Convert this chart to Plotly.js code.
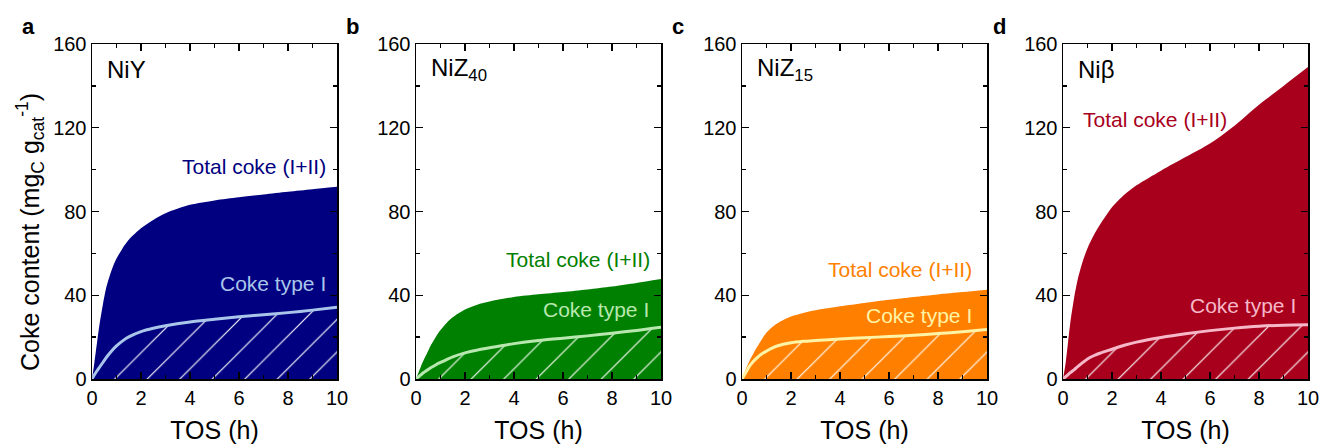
<!DOCTYPE html>
<html>
<head>
<meta charset="utf-8">
<script src="https://cdn.plot.ly/plotly-3.0.1.min.js"></script>
<style>html,body{margin:0;padding:0;background:#fff;}#chart{width:1320px;height:444px;}</style>
</head>
<body>
<div id="chart"></div>
<script>
// ---- data ----
const tos = [0, 0.1, 0.2, 0.3, 0.45, 0.6, 0.8, 1, 1.25, 1.5, 2, 2.5, 3, 4, 5, 6, 7, 8, 9, 10];

const totalNiY   = [0, 8, 17, 25.5, 36, 44.5, 52, 57.5, 62.5, 66.5, 72, 76, 79.2, 83.2, 85.3, 86.8, 88.1, 89.4, 90.6, 91.8];
const typeINiY   = [0, 2, 3.8, 5.5, 8, 10.5, 13.4, 15.8, 18.2, 20.1, 22.6, 24.2, 25.4, 27.2, 28.5, 29.7, 30.7, 31.7, 32.9, 34.3];

const totalNiZ40 = [0, 3, 6, 8.7, 12.3, 16, 20, 23.4, 26.8, 29.5, 33.2, 35.5, 37, 39.2, 40.5, 41.6, 42.8, 44.2, 45.9, 47.8];
const typeINiZ40 = [0, 1, 2, 3, 4.2, 5.4, 6.7, 7.9, 9.3, 10.6, 12.5, 13.8, 14.9, 16.9, 18.4, 19.5, 20.6, 21.9, 23.2, 24.7];

const totalNiZ15 = [0, 3, 6, 8.5, 11.8, 15, 18.8, 22.2, 25, 27, 29.8, 31.5, 32.8, 34.7, 36.3, 37.8, 39.2, 40.4, 41.5, 42.6];
const typeINiZ15 = [0, 2, 4, 6, 8.2, 10, 11.9, 13.3, 14.9, 16, 17.3, 18, 18.4, 19.1, 19.7, 20.3, 20.9, 21.7, 22.6, 23.7];

const totalNiB   = [0, 7, 17, 27, 38.5, 47.5, 56, 62.5, 68.5, 73.5, 82, 88, 92.5, 99.5, 106, 112.5, 121, 131, 140, 149];
const typeINiB   = [0, 1, 2, 3, 4.4, 5.9, 7.8, 9.6, 11.1, 12.3, 14.2, 16.1, 17.6, 19.8, 21.6, 23.1, 24.3, 25.2, 25.7, 25.9];

const panelLetters = ['a', 'b', 'c', 'd'];
const catalystNames = ['NiY', 'NiZ<sub>40</sub>', 'NiZ<sub>15</sub>', 'Niβ'];
const totalLabel = 'Total coke (I+II)';
const typeILabel = 'Coke type I';
const xTitle = 'TOS (h)';
const yTitle = 'Coke content (mg<sub>C</sub> g<sub>cat</sub><sup>-1</sup>)';
const xTicks = [0, 2, 4, 6, 8, 10];
const yTicks = [0, 40, 80, 120, 160];

// ---- styling ----
const fillColors = ['#000080', '#008000', '#ff8000', '#a8001c'];
const lineColors = ['#a9c6ea', '#b8e8b0', '#fff3a6', '#f6b8c8'];
const FONT = 'Liberation Sans, Arial, sans-serif';

const totals = [totalNiY, totalNiZ40, totalNiZ15, totalNiB];
const typeIs = [typeINiY, typeINiZ40, typeINiZ15, typeINiB];

// plot area geometry
const W = 1320, H = 444;
const ML = 92, MR = 12, MT = 44, MB = 65;
const PW = W - ML - MR, PH = H - MT - MB;
const lefts = [92, 416, 742, 1063];
const pwidth = 245;

const traces = [];
const layout = {
  width: W, height: H,
  margin: {l: ML, r: MR, t: MT, b: MB},
  paper_bgcolor: '#fff', plot_bgcolor: '#fff',
  showlegend: false,
  font: {family: FONT, size: 20, color: '#000'},
  annotations: []
};

for (let i = 0; i < 4; i++) {
  const ax = i === 0 ? '' : String(i + 1);
  const xref = 'x' + ax, yref = 'y' + ax;
  traces.push({
    x: tos, y: totals[i], xaxis: xref, yaxis: yref,
    type: 'scatter', mode: 'lines',
    line: {color: fillColors[i], width: 0, shape: 'spline', smoothing: 0.8},
    fill: 'tozeroy', fillcolor: fillColors[i], hoverinfo: 'skip'
  });
  traces.push({
    x: tos, y: typeIs[i], xaxis: xref, yaxis: yref,
    type: 'scatter', mode: 'lines',
    line: {color: lineColors[i], width: 3, shape: 'spline', smoothing: 0.8},
    fill: 'tozeroy', fillcolor: fillColors[i],
    fillpattern: {shape: '/', fgcolor: '#ffffff', bgcolor: fillColors[i], size: 23, solidity: 0.05},
    hoverinfo: 'skip'
  });
  const d0 = (lefts[i] - ML) / PW;
  const d1 = (lefts[i] + pwidth - ML) / PW;
  layout['xaxis' + ax] = {
    domain: [d0, Math.min(d1, 1)], anchor: yref,
    range: [0, 10], tickvals: xTicks, ticktext: xTicks.map(String),
    ticks: 'inside', ticklen: 7, tickwidth: 1.3, tickcolor: '#000',
    minor: {tickvals: [1, 3, 5, 7, 9], ticks: 'inside', ticklen: 4, tickwidth: 1.3, tickcolor: '#000'},
    showline: true, linecolor: '#000', linewidth: 1.5, mirror: 'ticks',
    showgrid: false, zeroline: false,
    tickfont: {family: FONT, size: 20, color: '#000'},
    title: {text: xTitle, font: {family: FONT, size: 25, color: '#000'}, standoff: 16},
    fixedrange: true
  };
  layout['yaxis' + ax] = {
    domain: [0, 1], anchor: xref,
    range: [0, 160], tickvals: yTicks, ticktext: yTicks.map(String),
    ticks: 'inside', ticklen: 7, tickwidth: 1.3, tickcolor: '#000',
    minor: {tickvals: [20, 60, 100, 140], ticks: 'inside', ticklen: 4, tickwidth: 1.3, tickcolor: '#000'},
    showline: true, linecolor: '#000', linewidth: 1.5, mirror: 'ticks',
    showgrid: false, zeroline: false,
    tickfont: {family: FONT, size: 20, color: '#000'},
    fixedrange: true
  };
  // panel letter
  layout.annotations.push({
    xref: 'paper', yref: 'paper', x: (lefts[i] - 72 - ML) / PW, y: 1 + (MT - 26) / PH,
    xanchor: 'left', yanchor: 'middle', showarrow: false,
    text: '<b>' + panelLetters[i] + '</b>', font: {family: FONT, size: 22, color: '#000'}
  });
  // catalyst name
  layout.annotations.push({
    xref: xref, yref: yref, x: 0.55, y: 148, xanchor: 'left', yanchor: 'middle', showarrow: false,
    text: catalystNames[i], font: {family: FONT, size: 24, color: '#000'}
  });
}

// y axis title (shared, drawn as rotated text left of panel a)
layout.annotations.push({
  xref: 'paper', yref: 'paper', x: (30 - ML) / PW, y: 1 - (232 - MT) / PH,
  xanchor: 'center', yanchor: 'middle', textangle: -90, showarrow: false,
  text: yTitle, font: {family: FONT, size: 25, color: '#000'}
});

// series labels
const totalPos = [[9.65, 101.4, 'right'], [9.65, 57.3, 'right'], [9.45, 52.5, 'right'], [0.73, 124, 'left']];
const typeIPos = [[9.65, 45.7, 'right'], [9.6, 33.4, 'right'], [9.45, 30.1, 'right'], [9.6, 35.3, 'right']];
for (let i = 0; i < 4; i++) {
  const ax = i === 0 ? '' : String(i + 1);
  layout.annotations.push({
    xref: 'x' + ax, yref: 'y' + ax, x: totalPos[i][0], y: totalPos[i][1],
    xanchor: totalPos[i][2], yanchor: 'middle', showarrow: false,
    text: totalLabel, font: {family: FONT, size: 21, color: fillColors[i]}
  });
  layout.annotations.push({
    xref: 'x' + ax, yref: 'y' + ax, x: typeIPos[i][0], y: typeIPos[i][1],
    xanchor: typeIPos[i][2], yanchor: 'middle', showarrow: false,
    text: typeILabel, font: {family: FONT, size: 21, color: lineColors[i]}
  });
}

Plotly.newPlot('chart', traces, layout, {displayModeBar: false, staticPlot: true});
</script>
</body>
</html>
